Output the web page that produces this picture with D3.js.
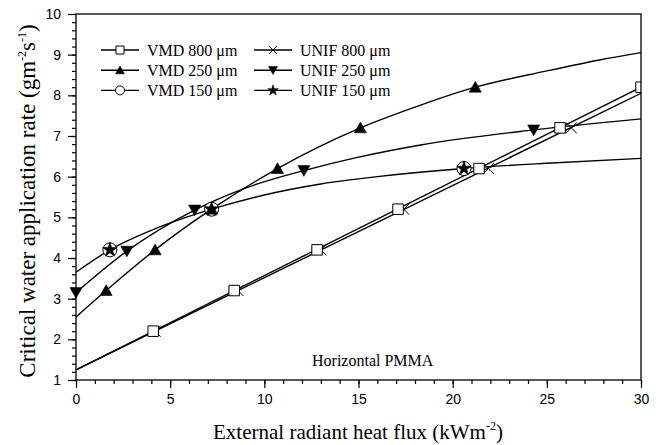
<!DOCTYPE html>
<html>
<head>
<meta charset="utf-8">
<script src="https://cdn.jsdelivr.net/npm/d3@7"></script>
<style>
  html, body { margin: 0; padding: 0; background: #fff; }
  svg { display: block; }
</style>
</head>
<body>
<div id="chart"></div>
<script>
/* Critical water application rate vs external radiant heat flux,
 * horizontal PMMA. Six series: fitted curves plus their markers. */

var xMajorTicks = [0, 5, 10, 15, 20, 25, 30];
var yMajorTicks = [1, 2, 3, 4, 5, 6, 7, 8, 9, 10];

/* Fitted curves. */
var vmd800CurveX = [0, 30];
var vmd800CurveY = [1.25, 8.2];
var unif800CurveX = [0, 30];
var unif800CurveY = [1.25, 8.05];
var vmd250CurveX = [0, 1.6, 4.2, 7.2, 10.7, 15.1, 18.3, 21.2, 25, 27.8, 30];
var vmd250CurveY = [2.55, 3.2, 4.2, 5.2, 6.2, 7.2, 7.76, 8.2, 8.6, 8.87, 9.05];
var unif250CurveX = [0, 2.7, 6.3, 9, 12.1, 15, 18.3, 24.3, 30];
var unif250CurveY = [3.15, 4.17, 5.18, 5.72, 6.15, 6.48, 6.78, 7.15, 7.42];
var vmd150CurveX = [0, 1.8, 4, 7.2, 10, 13, 16, 20.6, 25, 30];
var vmd150CurveY = [3.65, 4.2, 4.68, 5.2, 5.55, 5.82, 6.0, 6.2, 6.33, 6.45];

/* Measured points (markers). */
var vmd800X = [4.1, 8.4, 12.8, 17.1, 21.4, 25.7, 30];
var vmd800Y = [2.2, 3.2, 4.2, 5.2, 6.2, 7.2, 8.2];
var unif800X = [4.2, 8.6, 13.0, 17.4, 21.9, 26.3];
var unif800Y = [2.2, 3.2, 4.2, 5.2, 6.2, 7.2];
var vmd250X = [1.6, 4.2, 7.2, 10.7, 15.1, 21.2];
var vmd250Y = [3.2, 4.2, 5.2, 6.2, 7.2, 8.2];
var unif250X = [0, 2.7, 6.3, 12.1, 24.3];
var unif250Y = [3.15, 4.17, 5.18, 6.15, 7.15];
var vmd150X = [1.8, 7.2, 20.6];
var vmd150Y = [4.2, 5.2, 6.2];
var unif150X = [1.8, 7.2, 20.6];
var unif150Y = [4.2, 5.2, 6.2];

var legendLabels = ["VMD 800 \u03bcm", "VMD 250 \u03bcm", "VMD 150 \u03bcm",
                    "UNIF 800 \u03bcm", "UNIF 250 \u03bcm", "UNIF 150 \u03bcm"];
var legendSymbols = ["square", "triUp", "circle", "cross", "triDown", "star"];

var W = 659, H = 445;
var serif = "'Liberation Serif', 'Times New Roman', serif";
var sans = "'Liberation Sans', Arial, sans-serif";

var svg = d3.select("#chart").append("svg")
  .attr("width", W).attr("height", H);

var x = d3.scaleLinear().domain([0, 30]).range([76, 641]);
var y = d3.scaleLinear().domain([1, 10]).range([380, 14]);

function zip(xs, ys) { return xs.map(function (v, i) { return [v, ys[i]]; }); }

/* Marker path generator; s = nominal size in px. */
function symbolPath(kind, s) {
  var h = s / 2;
  if (kind === "square") return "M" + -h + "," + -h + "h" + s + "v" + s + "h" + -s + "Z";
  if (kind === "triUp") return "M0," + (-h * 1.05) + "L" + (h * 1.1) + "," + (h * 0.9) + "L" + (-h * 1.1) + "," + (h * 0.9) + "Z";
  if (kind === "triDown") return "M0," + (h * 1.05) + "L" + (h * 1.1) + "," + (-h * 0.9) + "L" + (-h * 1.1) + "," + (-h * 0.9) + "Z";
  if (kind === "cross") return "M" + -h + "," + -h + "L" + h + "," + h + "M" + h + "," + -h + "L" + -h + "," + h;
  if (kind === "circle") return d3.symbol(d3.symbolCircle, Math.PI * h * h)();
  if (kind === "star") return d3.symbol(d3.symbolStar, s * s * 0.55)();
  return "";
}
function styleMarker(sel, kind) {
  var filled = kind === "triUp" || kind === "triDown" || kind === "star";
  sel.attr("fill", kind === "cross" ? "none" : (filled ? "#000" : "#fff"))
    .attr("stroke", "#000")
    .attr("stroke-width", filled ? 0.6 : 1);
}

/* Clip for plot marks. */
svg.append("clipPath").attr("id", "plotClip")
  .append("rect").attr("x", 60).attr("y", 0).attr("width", 641 - 60).attr("height", 380);

/* Axes: major ticks outside, minor ticks outside and shorter. */
var xAxisMinor = d3.axisBottom(x).tickValues(d3.range(0, 31, 1)).tickSize(4).tickFormat("");
var xAxis = d3.axisBottom(x).tickValues(xMajorTicks).tickSize(8).tickPadding(6).tickFormat(d3.format("d"));
var yAxisMinor = d3.axisLeft(y).tickValues(d3.range(5, 50, 1).map(function (v) { return v / 5; })).tickSize(4).tickFormat("");
var yAxis = d3.axisLeft(y).tickValues(yMajorTicks).tickSize(8).tickPadding(7).tickFormat(d3.format("d"));

function styleAxis(g) {
  g.select(".domain").remove();
  g.selectAll("line").attr("stroke", "#000").attr("stroke-width", 1.2);
  g.selectAll("text").attr("fill", "#000").attr("font-family", sans).attr("font-size", 14);
}
svg.append("g").attr("transform", "translate(0,380)").call(xAxisMinor).call(styleAxis);
svg.append("g").attr("transform", "translate(0,380)").call(xAxis).call(styleAxis);
svg.append("g").attr("transform", "translate(76,0)").call(yAxisMinor).call(styleAxis);
svg.append("g").attr("transform", "translate(76,0)").call(yAxis).call(styleAxis);

/* Curves. */
var line = d3.line()
  .x(function (d) { return x(d[0]); })
  .y(function (d) { return y(d[1]); })
  .curve(d3.curveMonotoneX);

var plot = svg.append("g").attr("clip-path", "url(#plotClip)");
[
  zip(vmd800CurveX, vmd800CurveY),
  zip(unif800CurveX, unif800CurveY),
  zip(vmd250CurveX, vmd250CurveY),
  zip(unif250CurveX, unif250CurveY),
  zip(vmd150CurveX, vmd150CurveY)
].forEach(function (pts) {
  plot.append("path").datum(pts)
    .attr("d", line)
    .attr("fill", "none")
    .attr("stroke", "#000")
    .attr("stroke-width", 1.4);
});

/* Markers, drawn in an order that reproduces the overlaps. */
[
  { pts: zip(unif800X, unif800Y), kind: "cross", size: 11 },
  { pts: zip(vmd800X, vmd800Y), kind: "square", size: 10.5 },
  { pts: zip(unif250X, unif250Y), kind: "triDown", size: 11 },
  { pts: zip(vmd150X, vmd150Y), kind: "circle", size: 14 },
  { pts: zip(vmd250X, vmd250Y), kind: "triUp", size: 11 },
  { pts: zip(unif150X, unif150Y), kind: "star", size: 11 }
].forEach(function (s) {
  plot.selectAll(null).data(s.pts).enter().append("path")
    .attr("transform", function (d) { return "translate(" + x(d[0]) + "," + y(d[1]) + ")"; })
    .attr("d", symbolPath(s.kind, s.size))
    .call(styleMarker, s.kind);
});

/* Frame. */
svg.append("rect")
  .attr("x", 76).attr("y", 14).attr("width", 641 - 76).attr("height", 380 - 14)
  .attr("fill", "none").attr("stroke", "#000").attr("stroke-width", 1.3);

/* Legend: two columns of three. */
var legend = svg.append("g").attr("font-family", serif).attr("font-size", 16);
legendLabels.forEach(function (lab, i) {
  var col = Math.floor(i / 3), row = i % 3;
  var lx = 101 + col * 153, ly = 50 + row * 20.2;
  legend.append("line")
    .attr("x1", lx).attr("x2", lx + 38).attr("y1", ly).attr("y2", ly)
    .attr("stroke", "#000").attr("stroke-width", 1.4);
  legend.append("path")
    .attr("transform", "translate(" + (lx + 19) + "," + ly + ")")
    .attr("d", symbolPath(legendSymbols[i], legendSymbols[i] === "circle" ? 9 : 8))
    .call(styleMarker, legendSymbols[i]);
  legend.append("text")
    .attr("x", lx + 46).attr("y", ly + 5.5)
    .attr("fill", "#000")
    .text(lab);
});

/* Annotation. */
svg.append("text")
  .attr("x", 312).attr("y", 366)
  .attr("font-family", serif).attr("font-size", 16)
  .text("Horizontal PMMA");

/* Axis titles with superscripts. */
var xt = svg.append("text")
  .attr("x", 358).attr("y", 439)
  .attr("text-anchor", "middle")
  .attr("font-family", serif).attr("font-size", 21);
xt.append("tspan").text("External radiant heat flux (kWm");
xt.append("tspan").attr("font-size", 12).attr("dy", -9).text("-2");
xt.append("tspan").attr("dy", 9).text(")");

var yt = svg.append("text")
  .attr("transform", "translate(35,201) rotate(-90)")
  .attr("text-anchor", "middle")
  .attr("font-family", serif).attr("font-size", 23);
yt.append("tspan").text("Critical water application rate (gm");
yt.append("tspan").attr("font-size", 12).attr("dy", -9).text("-2");
yt.append("tspan").attr("dy", 9).text("s");
yt.append("tspan").attr("font-size", 12).attr("dy", -9).text("-1");
yt.append("tspan").attr("dy", 9).text(")");
</script>
</body>
</html>
